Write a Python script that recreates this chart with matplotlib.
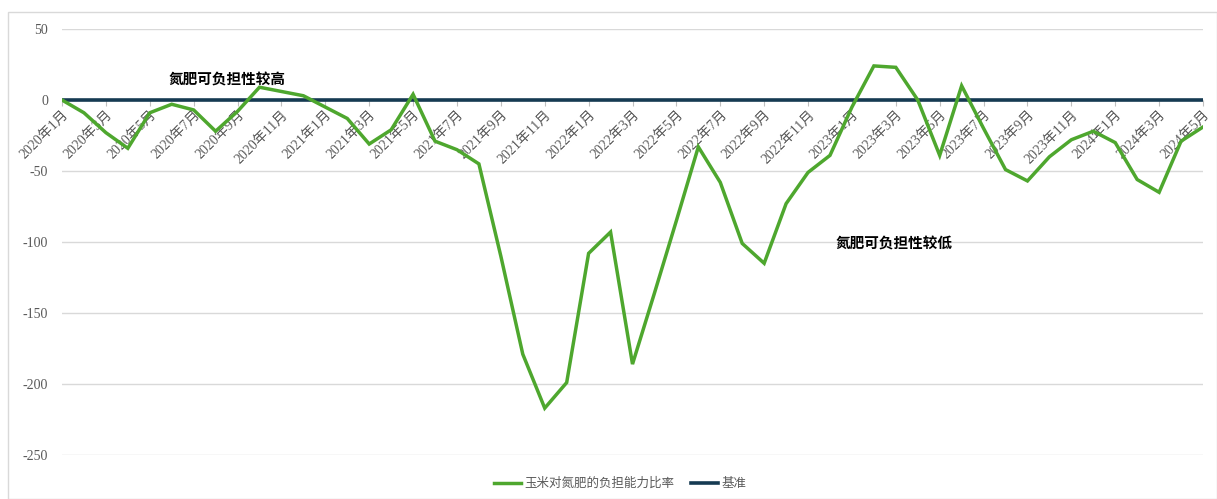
import matplotlib
matplotlib.use("Agg")
import matplotlib.pyplot as plt
from matplotlib.patches import Rectangle

# ---- data ----
start_year, start_month = 2020, 1
ratio = [0, -9, -23, -34, -9, -3, -7, -22, -8, 9, 6, 3,
         -5, -13, -31, -21, 4, -29, -35, -45, -110, -179, -217, -199,
         -108, -93, -186, -136, -85, -33, -58, -101, -115, -73, -51, -39,
         -5, 24, 23, 0, -39, 10, -20, -49, -57, -40, -28, -22,
         -30, -56, -65, -29, -19]
n = len(ratio)
months = []
for i in range(n):
    m = start_month - 1 + i
    months.append(f"{start_year + m // 12}年{m % 12 + 1}月")
baseline = [0] * n
yticks = [50, 0, -50, -100, -150, -200, -250]
series_name = "玉米对氮肥的负担能力比率"
base_name = "基准"
note_high = "氮肥可负担性较高"
note_low = "氮肥可负担性较低"

W, H = 1217, 499
fig = plt.figure(figsize=(W / 100, H / 100), dpi=100)
fig.patches.append(Rectangle((8 / W, 0), 1 - 8 / W, 1 - 12 / H, transform=fig.transFigure,
                             fill=False, edgecolor="#D9D9D9", linewidth=1.0))
ax = fig.add_axes([62 / W, 1 - 455 / H, (1203 - 62) / W, (455 - 29) / H])

serif = ["Liberation Serif", "Noto Sans CJK SC"]
green = "#4EA72E"
navy = "#153A52"
gray = "#595959"

x = list(range(n))
ax.plot(x, ratio, color=green, linewidth=2.5, solid_joinstyle="miter", label=series_name, zorder=3)
ax.plot(x, baseline, color=navy, linewidth=2.6, label=base_name, zorder=2)

ax.set_xlim(0, n - 1)
ax.set_ylim(-250, 50)
ax.set_yticks(yticks)
ax.set_yticklabels([str(v) for v in yticks], fontfamily=serif, fontsize=10, color=gray)
ax.yaxis.grid(True, color="#D9D9D9", linewidth=1.0)
ax.set_axisbelow(True)
ax.tick_params(axis="y", length=0, pad=10)

for s in ["top", "right", "left"]:
    ax.spines[s].set_visible(False)
ax.spines["bottom"].set_position(("data", 0))
ax.spines["bottom"].set_color("#D9D9D9")
ax.spines["bottom"].set_zorder(1)

tick_idx = list(range(0, n, 2))
ax.set_xticks(tick_idx)
ax.set_xticklabels([months[i] for i in tick_idx], rotation=45, ha="right",
                   rotation_mode="anchor", fontfamily=serif, fontsize=10, color=gray)
ax.tick_params(axis="x", length=4, color="#BFBFBF", pad=2)

ax.text(7.5, 14.5, note_high, fontfamily="Noto Sans CJK SC", fontweight="bold",
        fontsize=10.5, color="black", ha="center", va="center")
ax.text(37.9, -101, note_low, fontfamily="Noto Sans CJK SC", fontweight="bold",
        fontsize=10.5, color="black", ha="center", va="center")

leg = fig.legend(loc="center", bbox_to_anchor=(620 / W, 1 - 484 / H), ncol=2, frameon=False,
                 prop={"family": serif, "size": 9}, handlelength=2.2, columnspacing=1.3,
                 handletextpad=0.25)
for t in leg.get_texts():
    t.set_color(gray)

fig.savefig("out.png", dpi=100)
